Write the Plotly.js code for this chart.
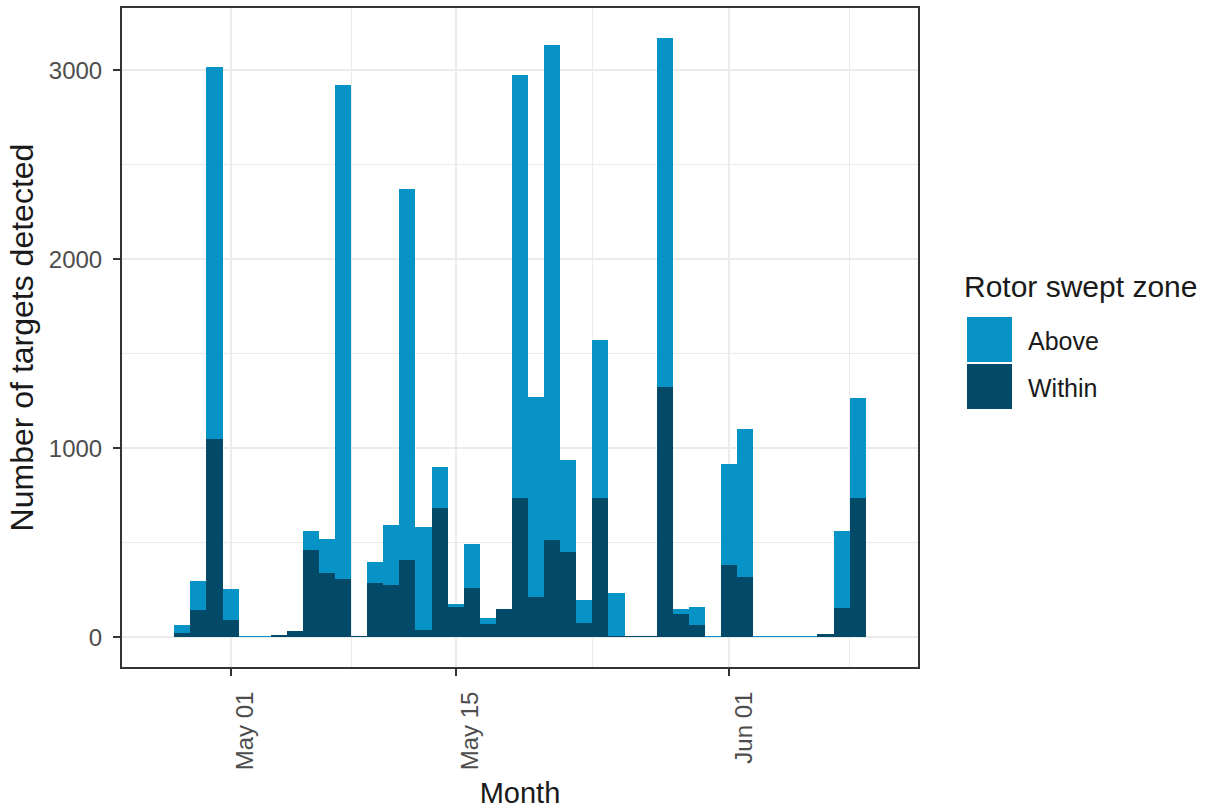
<!DOCTYPE html>
<html>
<head>
<meta charset="utf-8">
<script src="https://cdn.plot.ly/plotly-3.0.1.min.js"></script>
<style>
  html, body { margin: 0; padding: 0; background: #ffffff; }
  #chart { width: 1225px; height: 810px; }
</style>
</head>
<body>
<div id="chart"></div>
<script>
// ---- data (daily counts) ----
const dates = [
  '2019-04-27','2019-04-28','2019-04-29','2019-04-30','2019-05-01','2019-05-02','2019-05-03',
  '2019-05-04','2019-05-05','2019-05-06','2019-05-07','2019-05-08','2019-05-09','2019-05-10',
  '2019-05-11','2019-05-12','2019-05-13','2019-05-14','2019-05-15','2019-05-16','2019-05-17',
  '2019-05-18','2019-05-19','2019-05-20','2019-05-21','2019-05-22','2019-05-23','2019-05-24',
  '2019-05-25','2019-05-26','2019-05-27','2019-05-28','2019-05-29','2019-05-30','2019-05-31',
  '2019-06-01','2019-06-02','2019-06-03','2019-06-04','2019-06-05','2019-06-06','2019-06-07',
  '2019-06-08','2019-06-09','2019-06-10'
];
const within = [
  2, 23, 143, 1046, 90, 0, 0,
  10, 34, 463, 342, 310, 8, 287,
  278, 407, 37, 685, 157, 262, 69,
  151, 738, 210, 516, 451, 76, 738,
  8, 8, 8, 1322, 120, 63, 0,
  384, 319, 0, 0, 0, 0, 19,
  155, 738, 2
];
const above = [
  0, 40, 153, 1972, 164, 4, 4,
  0, 0, 99, 176, 2609, 0, 108,
  317, 1963, 546, 215, 21, 233, 30,
  0, 2236, 1060, 2615, 484, 123, 835,
  223, 0, 0, 1849, 28, 99, 4,
  530, 780, 4, 4, 4, 4, 0,
  405, 525, 0
];
const seriesNames = ['Above', 'Within'];
const seriesColors = ['#0893c6', '#034a69'];
const xTickVals = ['2019-05-01', '2019-05-15', '2019-06-01'];
const xTickText = ['May 01', 'May 15', 'Jun 01'];
const xMinorVals = ['2019-05-08 12:00', '2019-05-23 12:00', '2019-06-08 12:00'];
const yTickVals = [0, 1000, 2000, 3000];
const yTickText = ['0', '1000', '2000', '3000'];
const yMinorVals = [500, 1500, 2500];
const legendTitle = 'Rotor swept zone';
const xTitle = 'Month';
const yTitle = 'Number of targets detected';

// ---- geometry helpers (layout only) ----
const W = 1225, H = 810;
const M = { l: 122, r: 307, t: 8, b: 143 };
const plotW = W - M.l - M.r, plotH = H - M.t - M.b;
const px2x = p => (p - M.l) / plotW;
const px2y = p => (H - M.b - p) / plotH;

const DAY = 86400000;
const FONT = 'Liberation Sans, Arial, sans-serif';

const traces = [
  { type: 'bar', name: seriesNames[1], x: dates, y: within, width: DAY,
    marker: { color: seriesColors[1], line: { width: 0 } }, showlegend: false },
  { type: 'bar', name: seriesNames[0], x: dates, y: above, width: DAY,
    marker: { color: seriesColors[0], line: { width: 0 } }, showlegend: false }
];

// legend drawn with shapes + annotations (ggplot style large keys)
const keyX0 = 967, keyX1 = 1012;
const keyY = [[317, 362], [364, 409]];
const shapes = [];
const annotations = [];
seriesNames.forEach((nm, i) => {
  shapes.push({ type: 'rect', xref: 'paper', yref: 'paper',
    x0: px2x(keyX0), x1: px2x(keyX1), y0: px2y(keyY[i][1]), y1: px2y(keyY[i][0]),
    fillcolor: seriesColors[i], line: { width: 0 } });
  annotations.push({ xref: 'paper', yref: 'paper', x: px2x(1026), y: px2y((keyY[i][0] + keyY[i][1]) / 2 + 1),
    xanchor: 'left', yanchor: 'middle', text: nm, showarrow: false,
    font: { family: FONT, size: 25, color: '#1a1a1a' } });
});
annotations.push({ xref: 'paper', yref: 'paper', x: px2x(962), y: px2y(286),
  xanchor: 'left', yanchor: 'middle', text: legendTitle, showarrow: false,
  font: { family: FONT, size: 30, color: '#1a1a1a' } });

const layout = {
  width: W, height: H,
  margin: M,
  paper_bgcolor: '#ffffff', plot_bgcolor: '#ffffff',
  barmode: 'stack', bargap: 0,
  showlegend: false,
  font: { family: FONT, color: '#1a1a1a' },
  xaxis: {
    type: 'date',
    range: ['2019-04-24 06:00', '2019-06-12 18:00'],
    tickmode: 'array', tickvals: xTickVals, ticktext: xTickText,
    tickangle: -90,
    tickfont: { family: FONT, size: 24, color: '#4d4d4d' },
    ticks: 'outside', ticklen: 7, tickwidth: 2, tickcolor: '#333333',
    ticklabelstandoff: 6,
    ticklabelshift: 15,
    showgrid: true, gridcolor: '#ebebeb', gridwidth: 2,
    minor: { tickmode: 'array', tickvals: xMinorVals, showgrid: true, gridcolor: '#ebebeb', gridwidth: 1, ticks: '' },
    showline: true, linecolor: '#333333', linewidth: 2, mirror: true,
    zeroline: false, fixedrange: true,
    title: { text: xTitle, font: { family: FONT, size: 29, color: '#1a1a1a' }, standoff: 13 }
  },
  yaxis: {
    range: [-158, 3329],
    tickmode: 'array', tickvals: yTickVals, ticktext: yTickText,
    tickfont: { family: FONT, size: 24, color: '#4d4d4d' },
    ticks: 'outside', ticklen: 7, tickwidth: 2, tickcolor: '#333333',
    ticklabelstandoff: 6,
    showgrid: true, gridcolor: '#ebebeb', gridwidth: 2,
    minor: { tickmode: 'array', tickvals: yMinorVals, showgrid: true, gridcolor: '#ebebeb', gridwidth: 1, ticks: '' },
    showline: true, linecolor: '#333333', linewidth: 2, mirror: true,
    zeroline: false, fixedrange: true,
    title: { text: yTitle, font: { family: FONT, size: 32, color: '#1a1a1a' }, standoff: 6 }
  },
  shapes: shapes,
  annotations: annotations
};

Plotly.newPlot('chart', traces, layout, { displayModeBar: false, staticPlot: true });
</script>
</body>
</html>
